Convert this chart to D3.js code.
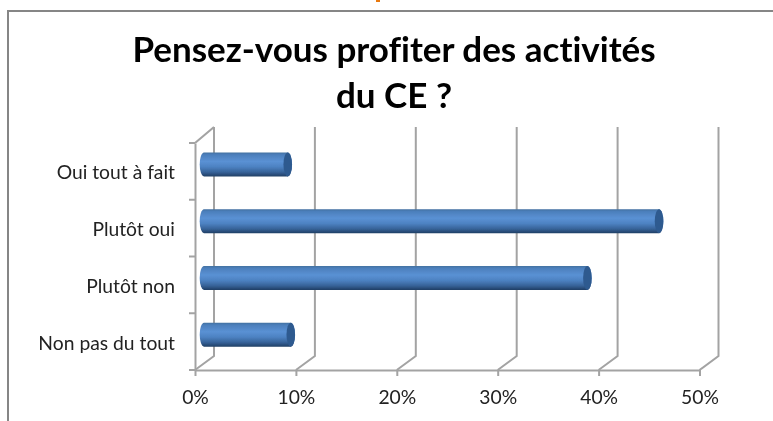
<!DOCTYPE html>
<html><head><meta charset="utf-8">
<script src="https://cdn.jsdelivr.net/npm/d3@7"></script>
<style>html,body{margin:0;padding:0;background:#fff}svg{display:block}text{font-family:Lato,"Open Sans",sans-serif;font-variant-ligatures:none}</style>
</head><body><svg id="c" width="773" height="421"></svg>
<script>
const categories = ["Oui tout à fait","Plutôt oui","Plutôt non","Non pas du tout"];
const values = [8.3,45.1,38,8.6];
const xTicks = [0,10,20,30,40,50];
const titleLines = ["Pensez-vous profiter des activités","du CE ?"];

const svg = d3.select("#c");
const depthX = 19;
const x = d3.scaleLinear().domain([0,50]).range([195,699.5]);
const y = d3.scaleBand().domain(categories).range([143,370]);
const gridC = "#a3a3a3";

const defs = svg.append("defs");
const grad = defs.append("linearGradient").attr("id","cyl").attr("x1",0).attr("x2",0).attr("y1",0).attr("y2",1);
[[0,"#41709f"],[0.1,"#4c7fbc"],[0.38,"#5a91d4"],[0.6,"#4d82c2"],[0.82,"#376399"],[1,"#213f66"]]
  .forEach(([o,c])=>grad.append("stop").attr("offset",o).attr("stop-color",c));
const soft = defs.append("filter").attr("id","soft").attr("x","-5%").attr("y","-5%").attr("width","110%").attr("height","110%");
soft.append("feGaussianBlur").attr("stdDeviation",0.4);

// outer frame
svg.append("path").attr("d","M773,11H8V421").attr("fill","none").attr("stroke","#868686").attr("stroke-width",2);
// stray orange mark at top edge
svg.append("rect").attr("x",376).attr("y",0).attr("width",4).attr("height",2).attr("fill","#e8790f");

// title
svg.append("g").attr("filter","url(#soft)").selectAll("text").data(titleLines).join("text")
  .attr("x",394).attr("y",(d,i)=>[62,108][i])
  .attr("text-anchor","middle").attr("font-size",35).attr("font-weight",700).attr("fill","#000").text(d=>d);

const plot = svg.append("g").attr("filter","url(#soft)");
// gridlines with depth foot
plot.append("g").selectAll("path").data(xTicks).join("path")
  .attr("d",d=>`M${x(d)},370 L${x(d)+depthX},356 V127`)
  .attr("fill","none").attr("stroke",gridC).attr("stroke-width",2);
// side wall top diagonal
plot.append("path").attr("d",`M${x(0)},143 L${x(0)+depthX},127`).attr("fill","none").attr("stroke",gridC).attr("stroke-width",2);

// axes
const xAxis = d3.axisBottom(x).tickValues(xTicks).tickFormat(d=>d+"%").tickSize(6).tickSizeOuter(0).tickPadding(14);
const gx = plot.append("g").attr("transform","translate(0,370)").call(xAxis);
gx.select(".domain").attr("stroke",gridC).attr("stroke-width",2);
gx.selectAll("line").attr("stroke",gridC).attr("stroke-width",2);
gx.selectAll("text").attr("font-size",19.3).attr("fill","#222");

const yAxis = d3.axisLeft(y).tickSize(0).tickPadding(20);
const gy = plot.append("g").attr("transform","translate(195,0)").call(yAxis);
gy.select(".domain").attr("stroke",gridC).attr("stroke-width",2);
gy.selectAll("text").attr("font-size",19.3).attr("fill","#222").attr("dy","0.42em");
// category separator ticks
plot.append("g").selectAll("line").data(d3.range(categories.length+1)).join("line")
  .attr("x1",189).attr("x2",195)
  .attr("y1",i=>y.range()[0]+i*y.step()).attr("y2",i=>y.range()[0]+i*y.step())
  .attr("stroke",gridC).attr("stroke-width",2);

// cylinder bars
const barH = 24, rx = 4.3, barX0 = x(0)+9;
const bars = plot.append("g").selectAll("g").data(categories).join("g")
  .attr("transform",c=>`translate(0,${y(c)+y.bandwidth()/2-7-barH/2})`);
const barEnd = (c,i)=>x(values[i])+9;
bars.append("path")
  .attr("d",(c,i)=>`M${barX0},0 H${barEnd(c,i)} A${rx},${barH/2} 0 0 1 ${barEnd(c,i)},${barH} H${barX0} A${rx},${barH/2} 0 0 1 ${barX0},0 Z`)
  .attr("fill","url(#cyl)");
bars.append("ellipse")
  .attr("cx",barEnd).attr("cy",barH/2).attr("rx",rx).attr("ry",barH/2).attr("fill","#2f5a8f");
</script></body></html>
